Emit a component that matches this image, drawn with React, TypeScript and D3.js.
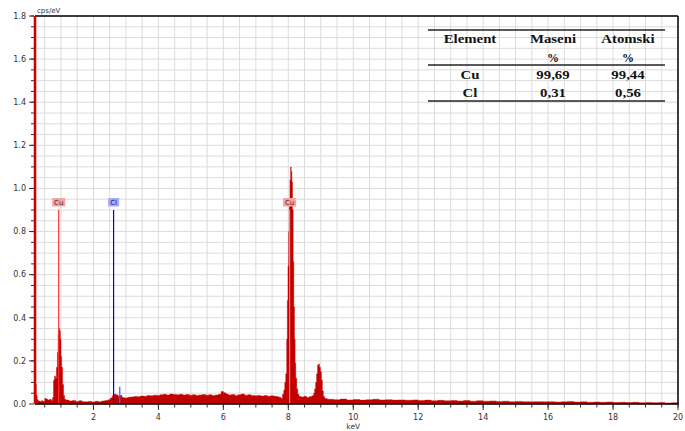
import * as d3 from 'd3';

// EDS spectrum, [keV, cps/eV]
const lowEnergy: [number, number][] = [
  [0.2, 0.18], [0.22, 0.09], [0.24, 0.04], [0.27, 0.02], [0.3, 0.014],
  [0.35, 0.012], [0.4, 0.015], [0.45, 0.012], [0.5, 0.026], [0.55, 0.022],
  [0.6, 0.018], [0.65, 0.022], [0.7, 0.016], [0.74, 0.03], [0.77, 0.11],
  [0.8, 0.13], [0.83, 0.12], [0.86, 0.17], [0.89, 0.24], [0.91, 0.32],
  [0.93, 0.35], [0.96, 0.34], [0.98, 0.3], [1.0, 0.22], [1.02, 0.17],
  [1.05, 0.09], [1.08, 0.04], [1.11, 0.022],
];

const continuum: [number, number][] = [
  [1.15, 0.018], [1.25, 0.014], [1.35, 0.016], [1.45, 0.012], [1.55, 0.015],
  [1.65, 0.011], [1.75, 0.01], [1.85, 0.012], [1.95, 0.009], [2.05, 0.013],
  [2.15, 0.011], [2.25, 0.014], [2.35, 0.016], [2.45, 0.02], [2.52, 0.028],
  [2.58, 0.038], [2.64, 0.045], [2.7, 0.042], [2.76, 0.036], [2.82, 0.04],
  [2.88, 0.03], [2.95, 0.028], [3.05, 0.031], [3.15, 0.033], [3.25, 0.035],
  [3.35, 0.034], [3.45, 0.037], [3.55, 0.036], [3.65, 0.039], [3.75, 0.038],
  [3.85, 0.041], [3.95, 0.04], [4.05, 0.043], [4.15, 0.045], [4.25, 0.042],
  [4.35, 0.046], [4.45, 0.044], [4.55, 0.043], [4.65, 0.045], [4.75, 0.042],
  [4.85, 0.044], [4.95, 0.041], [5.05, 0.043], [5.15, 0.04], [5.25, 0.042],
  [5.35, 0.044], [5.45, 0.041], [5.55, 0.043], [5.65, 0.04], [5.75, 0.042],
  [5.85, 0.045], [5.93, 0.058], [6.0, 0.052], [6.08, 0.046], [6.15, 0.042],
  [6.25, 0.044], [6.35, 0.04], [6.45, 0.043], [6.55, 0.046], [6.65, 0.041],
  [6.75, 0.043], [6.85, 0.04], [6.95, 0.038], [7.05, 0.04], [7.15, 0.037],
  [7.25, 0.039], [7.35, 0.036], [7.45, 0.038], [7.55, 0.036], [7.65, 0.034],
  [7.72, 0.03], [7.78, 0.026],
];

const cuKPeaks: [number, number][] = [
  [7.82, 0.045], [7.86, 0.065], [7.89, 0.1], [7.92, 0.14], [7.95, 0.3],
  [7.97, 0.48], [7.99, 0.64], [8.01, 0.8], [8.03, 0.95], [8.05, 1.04],
  [8.07, 1.1], [8.09, 1.08], [8.11, 1.03], [8.13, 0.9], [8.15, 0.66],
  [8.17, 0.45], [8.19, 0.3], [8.21, 0.19], [8.23, 0.12], [8.26, 0.07],
  [8.29, 0.045], [8.33, 0.035], [8.4, 0.032], [8.48, 0.036], [8.56, 0.03],
  [8.64, 0.034], [8.72, 0.038], [8.78, 0.05], [8.81, 0.07], [8.84, 0.1],
  [8.87, 0.14], [8.9, 0.18], [8.93, 0.186], [8.96, 0.17], [8.99, 0.15],
  [9.02, 0.11], [9.05, 0.06], [9.08, 0.035], [9.12, 0.025],
];

const highEnergy: [number, number][] = [
  [9.2, 0.022], [9.4, 0.02], [9.6, 0.023], [9.8, 0.019], [10.0, 0.021],
  [10.2, 0.018], [10.4, 0.02], [10.6, 0.022], [10.8, 0.019], [11.0, 0.02],
  [11.2, 0.018], [11.4, 0.019], [11.6, 0.017], [11.8, 0.019], [12.0, 0.016],
  [12.2, 0.018], [12.4, 0.015], [12.6, 0.017], [12.8, 0.015], [13.0, 0.016],
  [13.2, 0.014], [13.4, 0.016], [13.6, 0.013], [13.8, 0.015], [14.0, 0.013],
  [14.2, 0.014], [14.4, 0.012], [14.6, 0.013], [14.8, 0.011], [15.0, 0.012],
  [15.2, 0.011], [15.4, 0.01], [15.6, 0.011], [15.8, 0.01], [16.0, 0.011],
  [16.2, 0.009], [16.4, 0.01], [16.6, 0.012], [16.8, 0.009], [17.0, 0.01],
  [17.2, 0.008], [17.4, 0.009], [17.6, 0.008], [17.8, 0.009], [18.0, 0.007],
  [18.2, 0.008], [18.4, 0.007], [18.6, 0.008], [18.8, 0.006], [19.0, 0.007],
  [19.2, 0.006], [19.4, 0.007], [19.6, 0.005], [19.8, 0.006], [20.0, 0.005],
];

// peak markers
const markers = [
  { label: 'Cu', kev: 0.93, top: 0.9, bg: '#f5a3a3', line: '#ff3030', text: '#5a2a2a' },
  { label: 'Cl', kev: 2.62, top: 0.9, bg: '#a9a9fb', line: '#0000e8', text: '#1e1e5e' },
  { label: 'Cu', kev: 8.04, top: 0.9, bg: '#f5a3a3', line: '#ff8080', text: '#5a2a2a' },
];
const clKb = { kev: 2.81, top: 0.08 };

const xMajor = [2, 4, 6, 8, 10, 12, 14, 16, 18, 20];
const yMajor = [0, 0.2, 0.4, 0.6, 0.8, 1.0, 1.2, 1.4, 1.6, 1.8];

const tableHead = ['Element', 'Maseni', 'Atomski'];
const tableRows = [
  ['Cu', '99,69', '99,44'],
  ['Cl', '0,31', '0,56'],
];

const W = 685;
const H = 431;
const left = 35;
const right = 678;
const top = 16;
const bottom = 404;

export default function App() {
  const x = d3.scaleLinear().domain([0.2, 20]).range([left, right]);
  const y = d3.scaleLinear().domain([0, 1.8]).range([bottom, top]);

  const spectrum = [...lowEnergy, ...continuum, ...cuKPeaks, ...highEnergy];
  const area = d3
    .area<[number, number]>()
    .x((d) => x(d[0]))
    .y0(y(0))
    .y1((d) => y(d[1]))
    .curve(d3.curveStepAfter);

  const xMinor = d3.range(0.5, 20.01, 0.5);
  const yMinor = d3.range(0.05, 1.801, 0.05);
  const font = 'DejaVu Sans, Verdana, sans-serif';
  const serif = 'Liberation Serif, Times New Roman, serif';
  const cols = [470, 553, 628];
  const stretch = (cx: number) => `translate(${cx},0) scale(1.14,1) translate(${-cx},0)`;

  return (
    <div style={{ position: 'absolute', left: 0, top: 0 }}>
      <svg width={W} height={H} style={{ display: 'block', background: '#fff' }}>
        {/* grid */}
        <g stroke="#dcdcdc" strokeWidth={1}>
          {xMinor.map((v) => (
            <line key={'gx' + v} x1={x(v)} x2={x(v)} y1={top} y2={bottom} />
          ))}
          {yMinor.map((v) => (
            <line key={'gy' + v} x1={left} x2={right} y1={y(v)} y2={y(v)} />
          ))}
        </g>

        {/* spectrum */}
        <path d={area(spectrum) ?? ''} fill="#c20000" stroke="#c80000" strokeWidth={0.4} />

        {/* markers */}
        {markers.map((m, i) => (
          <g key={'m' + i}>
            <line
              x1={x(m.kev)}
              x2={x(m.kev)}
              y1={y(m.top)}
              y2={bottom}
              stroke={m.line}
              strokeWidth={1.2}
            />
            <rect
              x={x(m.kev) - (m.label === 'Cu' ? 6.5 : 5.5)}
              y={y(m.top) - 12}
              width={m.label === 'Cu' ? 13 : 11}
              height={8.5}
              fill={m.bg}
            />
            <text
              x={x(m.kev)}
              y={y(m.top) - 5.2}
              textAnchor="middle"
              fontFamily={font}
              fontSize={7}
              fill={m.text}
            >
              {m.label}
            </text>
          </g>
        ))}
        <line
          x1={x(clKb.kev)}
          x2={x(clKb.kev)}
          y1={y(clKb.top)}
          y2={bottom}
          stroke="#5a5aff"
          strokeWidth={1.3}
        />

        {/* frame */}
        <line x1={left} x2={right} y1={top} y2={top} stroke="#000" strokeWidth={1.5} />
        <line x1={right} x2={right} y1={top} y2={bottom} stroke="#000" strokeWidth={1.5} />
        <line x1={left} x2={right + 1} y1={bottom} y2={bottom} stroke="#000" strokeWidth={1.5} />
        <line x1={left} x2={left} y1={top} y2={bottom} stroke="#cc0000" strokeWidth={2.5} />

        {/* y axis ticks */}
        <g stroke="#333" strokeWidth={1}>
          {yMinor.map((v) => (
            <line key={'ym' + v} x1={left - 4} x2={left - 1} y1={y(v)} y2={y(v)} />
          ))}
          {yMajor.map((v) => (
            <line key={'yM' + v} x1={left - 6} x2={left - 1} y1={y(v)} y2={y(v)} />
          ))}
        </g>
        {yMajor.map((v) => (
          <text
            key={'yl' + v}
            x={left - 9}
            y={y(v)}
            dy="0.35em"
            textAnchor="end"
            fontFamily={font}
            fontSize={8}
            fill="#333"
          >
            {v.toFixed(1)}
          </text>
        ))}
        <text x={left + 2} y={top - 3} fontFamily={font} fontSize={7} fill="#333">
          cps/eV
        </text>

        {/* x axis ticks */}
        <g stroke="#333" strokeWidth={1}>
          {xMinor.map((v) => (
            <line key={'xm' + v} x1={x(v)} x2={x(v)} y1={bottom} y2={bottom + 3.5} />
          ))}
          {xMajor.map((v) => (
            <line key={'xM' + v} x1={x(v)} x2={x(v)} y1={bottom} y2={bottom + 6} />
          ))}
        </g>
        {xMajor.map((v) => (
          <text
            key={'xl' + v}
            x={x(v)}
            y={bottom + 16}
            textAnchor="middle"
            fontFamily={font}
            fontSize={8}
            fill="#333"
          >
            {v}
          </text>
        ))}
        <text
          x={x(10)}
          y={bottom + 25}
          textAnchor="middle"
          fontFamily={font}
          fontSize={7.5}
          fill="#333"
        >
          keV
        </text>

        {/* composition table */}
        <g fontFamily={serif} fontWeight="bold" fontSize={13} fill="#111" textAnchor="middle">
          <line x1={428} x2={665} y1={30} y2={30} stroke="#222" strokeWidth={1.6} />
          <line x1={428} x2={665} y1={65} y2={65} stroke="#222" strokeWidth={1.6} />
          <line x1={428} x2={665} y1={101} y2={101} stroke="#222" strokeWidth={1.6} />
          {tableHead.map((h, i) => (
            <text key={h} x={cols[i]} y={43.5} transform={stretch(cols[i])}>
              {h}
            </text>
          ))}
          {[1, 2].map((i) => (
            <text key={'pct' + i} x={cols[i]} y={61.5} fontSize={12}>
              %
            </text>
          ))}
          {tableRows.map((r, ri) =>
            r.map((c, ci) => (
              <text key={'c' + ri + ci} x={cols[ci]} y={79.5 + ri * 17.5} transform={stretch(cols[ci])}>
                {c}
              </text>
            )),
          )}
        </g>
      </svg>
    </div>
  );
}
